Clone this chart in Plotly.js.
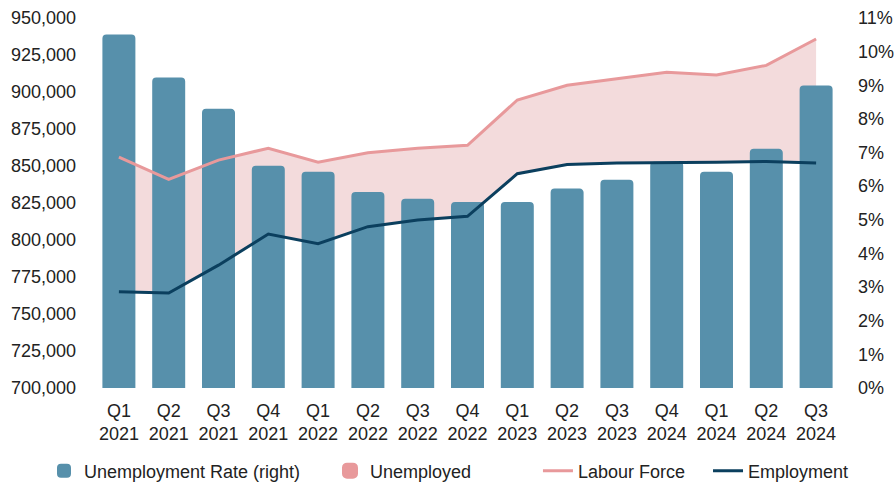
<!DOCTYPE html>
<html>
<head>
<meta charset="utf-8">
<script src="https://cdn.plot.ly/plotly-3.0.1.min.js"></script>
<style>html,body{margin:0;padding:0;background:#fff;}#chart{width:896px;height:486px;}</style>
</head>
<body>
<div id="chart"></div>
<script>
const categories = ["Q1<br>2021","Q2<br>2021","Q3<br>2021","Q4<br>2021","Q1<br>2022","Q2<br>2022","Q3<br>2022","Q4<br>2022","Q1<br>2023","Q2<br>2023","Q3<br>2023","Q4<br>2024","Q1<br>2024","Q2<br>2024","Q3<br>2024"];
const unemploymentRate = [0.1048,0.092,0.0827,0.0658,0.064,0.058,0.056,0.055,0.055,0.059,0.0616,0.067,0.064,0.0708,0.0896];
const labourForce = [856000,841000,854000,862000,852500,859000,862000,864000,894600,904500,909000,913300,911500,918000,935800];
const employment = [765000,764200,783000,804000,797500,809000,813500,816000,844800,851000,852000,852000,852500,853000,852000];

const BAR = "#5790ab", PINK = "#e8999b", FILL = "#f3dbdc", NAVY = "#0b3f5e";
const FONT = "Liberation Sans, Arial, sans-serif";

const traces = [
  {x: categories, y: employment, type: "scatter", mode: "lines", line: {width: 0, color: NAVY},
   yaxis: "y", showlegend: false, hoverinfo: "skip"},
  {x: categories, y: labourForce, type: "scatter", mode: "lines", line: {width: 0, color: PINK},
   fill: "tonexty", fillcolor: FILL, yaxis: "y", showlegend: false, hoverinfo: "skip"},
  {x: categories, y: unemploymentRate, type: "bar", name: "Unemployment Rate (right)",
   marker: {color: BAR, line: {color: BAR, width: 2}}, yaxis: "y2", legend: "legend"},
  {x: [null], y: [null], type: "bar", name: "Unemployed", marker: {color: PINK, line: {color: PINK, width: 4}},
   yaxis: "y2", legend: "legend2"},
  {x: categories, y: labourForce, type: "scatter", mode: "lines", name: "Labour Force",
   line: {color: PINK, width: 3}, yaxis: "y3", legend: "legend3"},
  {x: categories, y: employment, type: "scatter", mode: "lines", name: "Employment",
   line: {color: NAVY, width: 3}, yaxis: "y3", legend: "legend4"}
];

const lf = {family: FONT, size: 18, color: "#222"};
function leg(x){ return {orientation: "h", xref: "container", yref: "container", x: x, xanchor: "left",
  y: 0.031, yanchor: "middle", font: lf, bgcolor: "rgba(0,0,0,0)", itemwidth: 30, traceorder: "normal"}; }

const layout = {
  width: 896, height: 486,
  margin: {l: 94, r: 55, t: 18, b: 98, autoexpand: false},
  paper_bgcolor: "#fff", plot_bgcolor: "#fff",
  font: {family: FONT, size: 18, color: "#222"},
  barmode: "overlay", bargap: 0.378, barcornerradius: 3,
  showlegend: true,
  xaxis: {type: "category", showgrid: false, zeroline: false, showline: false, ticks: "",
          tickfont: {family: FONT, size: 18, color: "#222"}, ticklabelstandoff: 10, fixedrange: true},
  yaxis: {range: [700000, 950000], dtick: 25000, tickformat: ",d", showgrid: false, zeroline: false,
          showline: false, ticks: "", ticklabelstandoff: 17, tickfont: {family: FONT, size: 18, color: "#222"}},
  yaxis2: {overlaying: "y", side: "right", range: [0, 0.11], dtick: 0.01, tickformat: ".0%",
           showgrid: false, zeroline: false, showline: false, ticks: "", ticklabelstandoff: 16,
           tickfont: {family: FONT, size: 18, color: "#222"}},
  yaxis3: {overlaying: "y", range: [700000, 950000], visible: false},
  legend: leg(0.0491),
  legend2: leg(0.3683),
  legend3: leg(0.6004),
  legend4: leg(0.7902)
};

Plotly.newPlot("chart", traces, layout, {staticPlot: true, displayModeBar: false});
</script>
</body>
</html>
